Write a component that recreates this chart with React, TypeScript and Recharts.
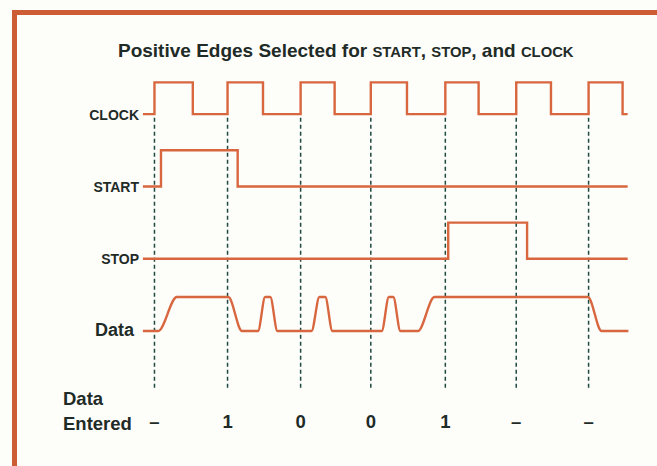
import React from 'react';
import { LineChart, Line, XAxis, YAxis, ReferenceLine } from 'recharts';

// time is in tenths of a clock period, t = 0 at the first positive CLOCK edge
const lanes = ['Data', 'STOP', 'START', 'CLOCK'];
const laneSwing = [0.47, 0.5, 0.5, 0.44];

const clockT = [-1.6, 0, 5.3, 10.1, 15.0, 20.2, 24.9, 29.9, 34.9, 40.2, 44.8, 50.0, 54.8, 60.0, 64.7, 65.4];
const clockV = [0, 1, 0, 1, 0, 1, 0, 1, 0, 1, 0, 1, 0, 1, 0, 0];

const startT = [-1.6, 0.9, 11.5, 65.4];
const startV = [0, 1, 0, 0];

const stopT = [-1.6, 40.6, 51.5, 65.4];
const stopV = [0, 1, 0, 0];

const dataT = [-1.6, 0.5, 3.1, 10.2, 12.1, 14.3, 15.3, 16.0, 17.0, 21.7, 22.8, 23.6, 24.6, 31.4, 32.4, 33.0, 34.0, 36.4, 38.7, 59.9, 61.8, 65.5];
const dataV = [0, 0, 1, 1, 0, 0, 1, 1, 0, 0, 1, 1, 0, 0, 1, 1, 0, 0, 1, 1, 0, 0];

// positive edges selected (dashed markers) and what gets entered at each
const edges = [0, 10.1, 20.2, 29.9, 40.2, 50.0, 60.0];
const entered = ['\u2013', '1', '0', '0', '1', '\u2013', '\u2013'];

const toSeries = (lane: number, t: number[], v: number[]) =>
  t.map((x, i) => ({ t: x, y: lane + v[i] * laneSwing[lane] }));

const clockData = toSeries(3, clockT, clockV);
const startData = toSeries(2, startT, startV);
const stopData = toSeries(1, stopT, stopV);
const dataData = toSeries(0, dataT, dataV);

const ink = '#1f2b27';
const trace = '#d8663e';
const frame = '#cd5d35';
const font = '"Liberation Sans", Arial, Helvetica, sans-serif';

const LaneTick = (props: any) => {
  const { x, y, payload } = props;
  const name = lanes[payload.value];
  const big = name === 'Data';
  return (
    <text
      x={x - (big ? 6 : 1)}
      y={y + (big ? 4.5 : 5.5)}
      textAnchor="end"
      fill={ink}
      fontFamily={font}
      fontWeight="bold"
      fontSize={big ? 18 : 14}
    >
      {name}
    </text>
  );
};

const EnteredTick = (props: any) => {
  const { x, y, index } = props;
  return (
    <text x={x} y={y + 25} textAnchor="middle" fill={ink} fontFamily={font} fontWeight="bold" fontSize={18.5}>
      {entered[index]}
    </text>
  );
};

const sc = { fontSize: 14.8 };

export default function App() {
  return (
    <div style={{ position: 'absolute', left: 0, top: 0, width: 657, height: 466, background: '#fdfdfa', overflow: 'hidden' }}>
      <div
        style={{
          position: 'absolute',
          left: 12,
          top: 10,
          width: 660,
          height: 470,
          border: `5.5px solid ${frame}`,
        }}
      />
      <div
        style={{
          position: 'absolute',
          left: 118,
          top: 41,
          fontFamily: font,
          fontWeight: 'bold',
          fontSize: 19,
          lineHeight: '19px',
          color: ink,
          whiteSpace: 'nowrap',
        }}
      >
        Positive Edges Selected for <span style={sc}>START</span>, <span style={sc}>STOP</span>, and{' '}
        <span style={sc}>CLOCK</span>
      </div>
      <div
        style={{
          position: 'absolute',
          left: 63,
          top: 387,
          fontFamily: font,
          fontWeight: 'bold',
          fontSize: 18.5,
          lineHeight: '24.5px',
          color: ink,
        }}
      >
        Data
        <br />
        Entered
      </div>
      <div style={{ position: 'absolute', left: 0, top: 0 }}>
        <LineChart width={657} height={466} margin={{ top: 78, right: 25, bottom: 22.65, left: 0 }}>
          <XAxis
            type="number"
            dataKey="t"
            domain={[-2, 66]}
            ticks={edges}
            interval={0}
            allowDataOverflow
            axisLine={false}
            tickLine={false}
            tickSize={0}
            tickMargin={0}
            height={40}
            tick={<EnteredTick />}
          />
          <YAxis
            type="number"
            dataKey="y"
            domain={[-1, 3.5]}
            ticks={[0, 1, 2, 3]}
            interval={0}
            allowDataOverflow
            axisLine={false}
            tickLine={false}
            tickSize={0}
            tickMargin={0}
            width={140}
            tick={<LaneTick />}
          />
          {edges.map((e) => (
            <ReferenceLine
              key={e}
              segment={[
                { x: e, y: 2.95 },
                { x: e, y: -0.82 },
              ]}
              stroke="#1e4a40"
              strokeWidth={1.5}
              strokeDasharray="4 3"
            />
          ))}
          <Line data={clockData} dataKey="y" type="stepAfter" stroke={trace} strokeWidth={2.4} dot={false} isAnimationActive={false} />
          <Line data={startData} dataKey="y" type="stepAfter" stroke={trace} strokeWidth={2.4} dot={false} isAnimationActive={false} />
          <Line data={stopData} dataKey="y" type="stepAfter" stroke={trace} strokeWidth={2.4} dot={false} isAnimationActive={false} />
          <Line data={dataData} dataKey="y" type="monotone" stroke={trace} strokeWidth={2.4} dot={false} isAnimationActive={false} />
        </LineChart>
      </div>
    </div>
  );
}
